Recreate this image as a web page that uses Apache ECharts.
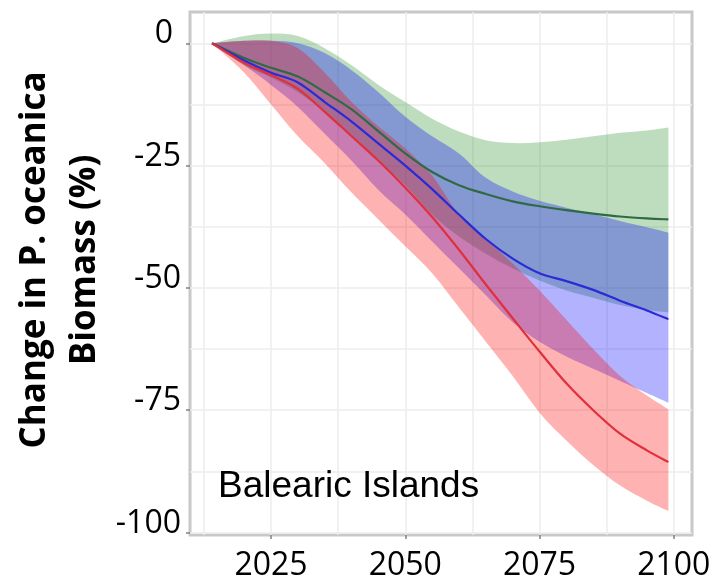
<!DOCTYPE html>
<html>
<head>
<meta charset="utf-8">
<script src="https://cdn.jsdelivr.net/npm/echarts@6/dist/echarts.min.js"></script>
<style>
html,body{margin:0;padding:0;background:#fff;}
#chart{width:714px;height:582px;}
</style>
</head>
<body>
<div id="chart"></div>
<script>
const years = [2014,2020,2025,2030,2035,2040,2045,2050,2055,2060,2065,2070,2075,2080,2085,2090,2095,2099];

const greenMean  = [0,-3,-5,-6.8,-10,-13.5,-18,-22.5,-26.3,-29,-30.8,-32.3,-33.3,-34.1,-34.8,-35.4,-35.8,-36];
const greenUpper = [0,1.5,2,1.5,-1,-4.5,-8.5,-12,-15.4,-18,-19.8,-20.4,-20.2,-19.7,-19,-18.3,-17.8,-17.2];
const greenLower = [0,-4.5,-7,-10,-14,-19,-24,-29,-35,-39.5,-43,-46,-48.5,-50.5,-52,-53.5,-54.5,-55];

const blueMean  = [0,-3.5,-6,-8,-12,-16,-20.5,-25,-29.8,-35,-40,-44,-47,-48.6,-50.4,-52.6,-54.6,-56.4];
const blueUpper = [0,0.5,0.5,0,-2,-5.5,-10,-15,-19,-22.5,-27.5,-30.3,-32.2,-33.6,-34.9,-36.3,-37.6,-38.7];
const blueLower = [0,-4.5,-8.5,-13,-18.5,-24,-30,-35,-40.5,-46,-51.5,-57,-61,-64,-66.5,-69,-71.5,-73.5];

const redMean  = [0,-4,-6.5,-9.3,-14,-19,-24,-29.5,-35.5,-42.2,-49.3,-56.2,-63,-69.5,-75,-79.8,-83.2,-85.6];
const redUpper = [0,0.5,0.5,-1,-6,-12,-17,-21.5,-27,-35,-40,-45,-50.5,-56.5,-62.5,-68,-72,-74.8];
const redLower = [0,-6,-12.5,-19,-24.5,-30.5,-36,-41.5,-47,-54,-61,-68,-75.5,-81.2,-86.2,-90.4,-93.5,-95.6];

const xTicks = [2025,2050,2075,2100];
const yTicks = [0,-25,-50,-75,-100];
const xGrid = [2012.5,2025,2037.5,2050,2062.5,2075,2087.5,2100];
const yGrid = [0,-12.5,-25,-37.5,-50,-62.5,-75,-87.5,-100];

const labelText = 'Balearic Islands';
const yTitle1 = 'Change in P. oceanica';
const yTitle2 = 'Biomass (%)';

// Catmull-Rom -> cubic Bezier path segments through pixel points
function curvePath(pts, start){
  let d = start ? ('M' + pts[0][0] + ',' + pts[0][1]) : ('L' + pts[0][0] + ',' + pts[0][1]);
  const n = pts.length;
  for (let i = 0; i < n - 1; i++){
    const p0 = pts[Math.max(i-1,0)], p1 = pts[i], p2 = pts[i+1], p3 = pts[Math.min(i+2,n-1)];
    const c1x = p1[0] + (p2[0]-p0[0])/6, c1y = p1[1] + (p2[1]-p0[1])/6;
    const c2x = p2[0] - (p3[0]-p1[0])/6, c2y = p2[1] - (p3[1]-p1[1])/6;
    d += 'C' + c1x + ',' + c1y + ',' + c2x + ',' + c2y + ',' + p2[0] + ',' + p2[1];
  }
  return d;
}

function bandSeries(lo, up, color){
  return {
    type:'custom', coordinateSystem:'cartesian2d', z:2, silent:true, animation:false, clip:false,
    data: years.map((y,i)=>[y, lo[i], up[i]]),
    encode:{x:0, y:[1,2]},
    renderItem:function(params, api){
      if (params.dataIndex !== 0) return null;
      const upPts = years.map((y,i)=>api.coord([y, up[i]]));
      const loPts = years.map((y,i)=>api.coord([y, lo[i]])).reverse();
      const d = curvePath(upPts, true) + curvePath(loPts, false) + 'Z';
      return {type:'path', shape:{pathData:d}, style:{fill:color, stroke:null}};
    }
  };
}
function meanSeries(vals, color){
  return {
    type:'custom', coordinateSystem:'cartesian2d', z:5, silent:true, animation:false, clip:false,
    data: years.map((y,i)=>[y, vals[i]]),
    encode:{x:0, y:1},
    renderItem:function(params, api){
      if (params.dataIndex !== 0) return null;
      const pts = years.map((y,i)=>api.coord([y, vals[i]]));
      return {type:'path', shape:{pathData:curvePath(pts, true)}, style:{fill:null, stroke:color, lineWidth:2.2}};
    }
  };
}

const gridSeries = {
  type:'line', data:[], silent:true, z:0, animation:false,
  markLine:{
    z:0, silent:true, symbol:['none','none'], label:{show:false}, animation:false,
    lineStyle:{color:'#ececec', width:1.5, type:'solid'},
    data: xGrid.map(v=>({xAxis:v})).concat(yGrid.map(v=>({yAxis:v})))
  }
};

const chart = echarts.init(document.getElementById('chart'), null, {renderer:'canvas'});
chart.setOption({
  animation:false,
  backgroundColor:'#ffffff',
  grid:{left:190, right:22, top:12, bottom:46, show:true, borderColor:'#c8c8c8', borderWidth:3, backgroundColor:'#ffffff'},
  xAxis:{
    type:'value', min:2009.9, max:2103.4, position:'bottom',
    axisLine:{show:false, onZero:false},
    splitLine:{show:false},
    axisTick:{show:true, customValues:xTicks, length:4, lineStyle:{color:'#808080', width:1.5}},
    axisLabel:{customValues:xTicks, margin:15, color:'#000', fontFamily:'"Open Sans"', fontSize:32, lineHeight:32,
      formatter:function(v){ return String(v); }}
  },
  yAxis:{
    type:'value', min:-100.5, max:6.4, position:'left',
    axisLine:{show:false, onZero:false},
    splitLine:{show:false},
    axisTick:{show:true, customValues:yTicks, length:4, lineStyle:{color:'#808080', width:1.5}},
    axisLabel:{customValues:yTicks, margin:9, color:'#000', fontFamily:'"Open Sans"', fontSize:32, lineHeight:32,
      padding:[0,0,18,0],
      formatter:function(v){ return v===0 ? '{z|0}' : String(v); },
      rich:{z:{fontFamily:'"Open Sans"', fontSize:32, lineHeight:32, color:'#000', padding:[0,8,0,0]}}
    }
  },
  graphic:[
    {type:'text', x:35, y:260, rotation:Math.PI/2, z:10,
      style:{text:yTitle1, align:'center', verticalAlign:'middle', font:'bold 35px "Open Sans"', fill:'#000'}},
    {type:'text', x:85, y:260, rotation:Math.PI/2, z:10,
      style:{text:yTitle2, align:'center', verticalAlign:'middle', font:'bold 35px "Open Sans"', fill:'#000'}},
    {type:'text', x:218, y:487, z:10,
      style:{text:labelText, align:'left', verticalAlign:'middle', font:'37px "Liberation Sans"', fill:'#000'}}
  ],
  series:[
    gridSeries,
    bandSeries(greenLower, greenUpper, 'rgba(40,140,40,0.3)'),
    bandSeries(blueLower, blueUpper, 'rgba(0,0,255,0.3)'),
    bandSeries(redLower, redUpper, 'rgba(255,0,0,0.3)'),
    meanSeries(greenMean, '#2f6a45'),
    meanSeries(blueMean, '#2b2bd6'),
    meanSeries(redMean, '#e0303c')
  ]
});
</script>
</body>
</html>
